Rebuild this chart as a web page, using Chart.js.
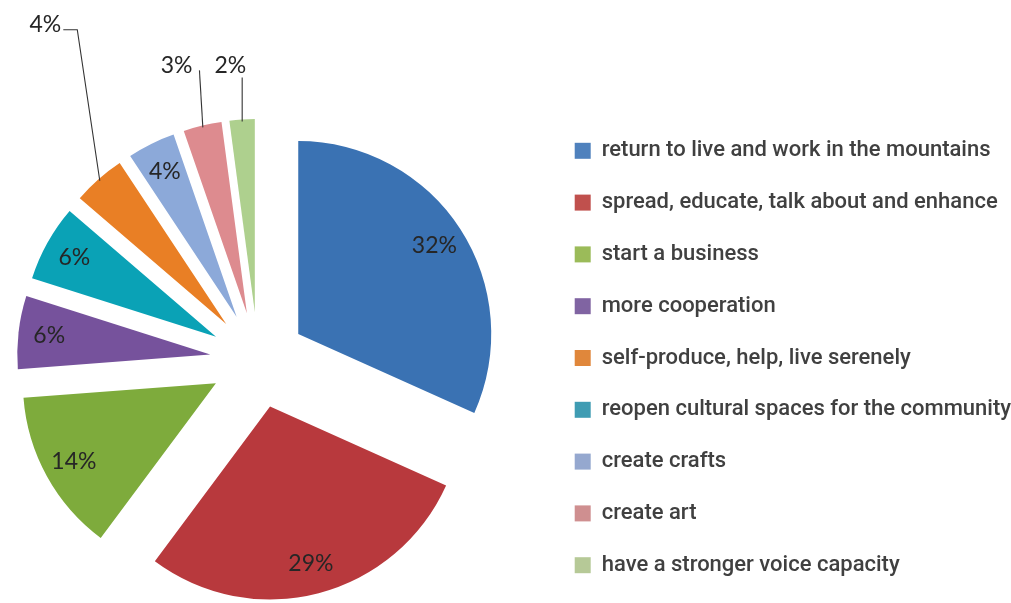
<!DOCTYPE html>
<html>
<head>
<meta charset="utf-8">
<script src="https://cdn.jsdelivr.net/npm/chart.js@4"></script>
<style>
  html, body { margin: 0; padding: 0; background: #ffffff; overflow: hidden; width: 1011px; height: 603px; }
  canvas { display: block; position: absolute; left: -29px; top: 0; }
</style>
</head>
<body>
<canvas id="c" width="1050" height="610"></canvas>
<script>
// categories in the order the slices are drawn (clockwise from 12 o'clock)
const categories = [
  'return to live and work in the mountains',
  'spread, educate, talk about and enhance',
  'start a business',
  'more cooperation',
  'reopen cultural spaces for the community',
  'self-produce, help, live serenely',
  'create crafts',
  'create art',
  'have a stronger voice capacity'
];
// shares (%)
const values = [31.7, 28.45, 13.6, 6.1, 6.4, 4.4, 4.0, 3.2, 2.1];
// percentage labels printed on the chart
const valueLabels = ['32%', '29%', '14%', '6%', '6%', '4%', '4%', '3%', '2%'];
// order in which the categories are listed in the legend
const legendOrder = [0, 1, 2, 3, 5, 4, 6, 7, 8];
const sliceColors = ['#3A72B3', '#B8393D', '#7EAB3C', '#76529C', '#0AA2B6', '#E97F25', '#8CA9D9', '#DD8B8F', '#AED08E'];
const legendColors = ['#4F81BD', '#C0504D', '#9BBB59', '#8064A2', '#3F9CB3', '#E0873B', '#95A8CF', '#CF8F90', '#B6C997'];

const EXPLODE = 48;        // px each slice is pulled out along its bisector
const LABEL_FRAC = 0.84;   // inside label position as fraction of radius

// callout (outside) labels: leader from slice edge
const callouts = {
  5: { dx: -22.5, dy: -151, hx: -14, tx: -2, ty: -5 },
  7: { dx: -3.4, dy: -57, hx: 0, tx: -7, ty: -4.5 },
  8: { dx: 0, dy: -44, hx: 0, tx: 4, ty: -11.5 }
};

const explodePlugin = {
  id: 'explode',
  beforeDatasetDraw(chart, args) {
    const ctx = chart.ctx;
    args.meta.data.forEach(arc => {
      const p = arc.getProps(['startAngle', 'endAngle'], true);
      const mid = (p.startAngle + p.endAngle) / 2;
      ctx.save();
      ctx.translate(EXPLODE * Math.cos(mid), EXPLODE * Math.sin(mid));
      arc.draw(ctx);
      ctx.restore();
    });
    return false;
  },
  afterDatasetsDraw(chart) {
    const ctx = chart.ctx;
    const meta = chart.getDatasetMeta(0);
    ctx.save();
    ctx.font = '23px Lato';
    ctx.fillStyle = '#262626';
    ctx.strokeStyle = '#333333';
    ctx.lineWidth = 1.1;
    meta.data.forEach((arc, i) => {
      const p = arc.getProps(['x', 'y', 'startAngle', 'endAngle', 'outerRadius'], true);
      const mid = (p.startAngle + p.endAngle) / 2;
      const cx = p.x + EXPLODE * Math.cos(mid);
      const cy = p.y + EXPLODE * Math.sin(mid);
      const co = callouts[i];
      if (!co) {
        const r = p.outerRadius * LABEL_FRAC;
        ctx.textAlign = 'center';
        ctx.textBaseline = 'middle';
        ctx.fillText(valueLabels[i], cx + r * Math.cos(mid), cy + r * Math.sin(mid));
      } else {
        const r = p.outerRadius * 0.99;
        const ex = cx + r * Math.cos(mid);
        const ey = cy + r * Math.sin(mid);
        const kx = ex + co.dx, ky = ey + co.dy;
        const hx = kx + co.hx;
        ctx.beginPath();
        ctx.moveTo(ex, ey);
        ctx.lineTo(kx, ky);
        if (co.hx) ctx.lineTo(hx, ky);
        ctx.stroke();
        ctx.textAlign = 'right';
        ctx.textBaseline = 'middle';
        ctx.fillText(valueLabels[i], hx + co.tx, ky + co.ty);
      }
    });
    ctx.restore();
  }
};

const baseGen = (Chart.overrides.pie && Chart.overrides.pie.plugins && Chart.overrides.pie.plugins.legend)
  ? Chart.overrides.pie.plugins.legend.labels.generateLabels
  : Chart.overrides.doughnut.plugins.legend.labels.generateLabels;

new Chart(document.getElementById('c'), {
  type: 'pie',
  data: {
    labels: categories,
    datasets: [{
      data: values,
      backgroundColor: sliceColors,
      borderWidth: 0,
      radius: 193
    }]
  },
  options: {
    responsive: false,
    devicePixelRatio: 1,
    animation: false,
    layout: { padding: { left: 0, right: 0, top: 110, bottom: 0 } },
    plugins: {
      tooltip: { enabled: false },
      legend: {
        position: 'right',
        align: 'start',
        labels: {
          boxWidth: 16,
          boxHeight: 16,
          padding: 29.8,
          color: '#404040',
          font: { family: 'Roboto', size: 22, weight: '500' },
          generateLabels(chart) {
            const items = baseGen(chart);
            items.forEach((it, i) => {
              it.fillStyle = legendColors[i];
              it.strokeStyle = legendColors[i];
              it.lineWidth = 0;
            });
            return legendOrder.map(i => items[i]);
          }
        }
      }
    }
  },
  plugins: [explodePlugin]
});
</script>
</body>
</html>
